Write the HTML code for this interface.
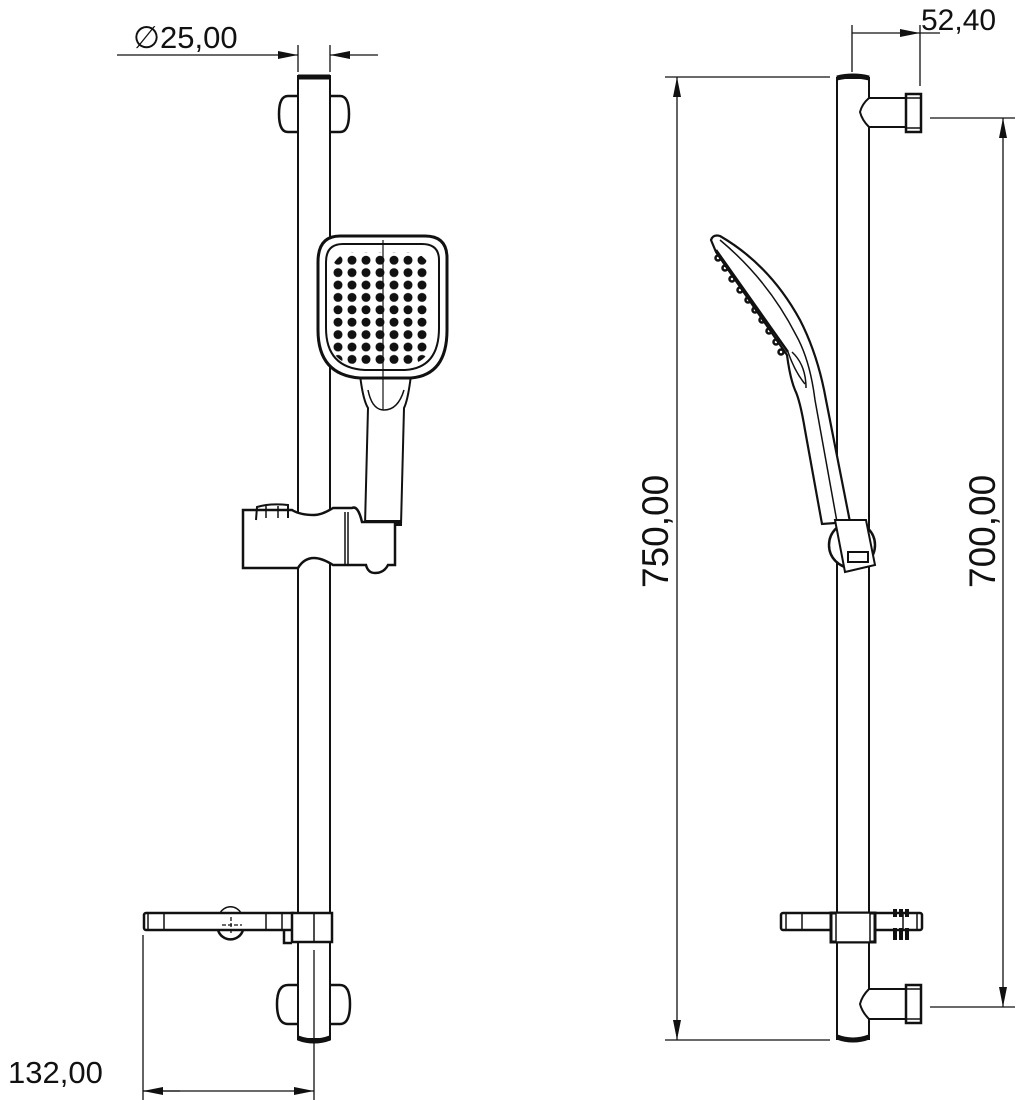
<!DOCTYPE html>
<html><head><meta charset="utf-8"><style>
html,body{margin:0;padding:0;background:#fff;}
svg{display:block}
text{font-family:"Liberation Sans",sans-serif;fill:#111}
</style></head><body>
<svg width="1022" height="1100" viewBox="0 0 1022 1100" xmlns="http://www.w3.org/2000/svg">
<defs>
<pattern id="dots" x="331" y="254" width="14" height="12.4" patternUnits="userSpaceOnUse">
<circle cx="7" cy="6.2" r="4.5" fill="#111"/>
</pattern>
<marker id="ar" viewBox="0 0 20 8" refX="20" refY="4" markerWidth="20" markerHeight="8" orient="auto" markerUnits="userSpaceOnUse">
<path d="M0,0 L20,4 L0,8 z" fill="#111"/>
</marker>
</defs>
<g fill="none" stroke="#111" stroke-width="2">

<!-- ===== LEFT VIEW ===== -->
<text x="133" y="48" font-size="31" stroke="none">∅25,00</text>
<line x1="298" y1="45" x2="298" y2="72" stroke-width="1.3"/>
<line x1="330" y1="45" x2="330" y2="72" stroke-width="1.3"/>
<line x1="117" y1="55" x2="298" y2="55" stroke-width="1.3" marker-end="url(#ar)"/>
<line x1="378" y1="55" x2="330" y2="55" stroke-width="1.3" marker-end="url(#ar)"/>
<rect x="298" y="76" width="32" height="963" fill="#fff"/>
<path d="M298 77 H330" stroke-width="5"/>
<path d="M298 1038 Q314 1044 330 1038" stroke-width="5"/>
<path d="M298 96 H288 Q279 96 279 114 Q279 132 288 132 H298" stroke-width="2.5"/>
<path d="M330 96 H340 Q349 96 349 114 Q349 132 340 132 H330" stroke-width="2.5"/>
<path d="M298 985 H288 Q277 985 277 1004 Q277 1024 288 1024 H298" stroke-width="2.5"/>
<path d="M330 985 H340 Q350 985 350 1004 Q350 1024 340 1024 H330" stroke-width="2.5"/>
<line x1="314" y1="950" x2="314" y2="1100" stroke-width="1.3"/>
<path d="M360 375 Q363 400 368 408 L365 525 H401 L404 408 Q408 400 411 375" fill="#fff"/>
<path d="M368 390 Q372 410 384 410 Q398 410 404 390" stroke-width="1.5"/>
<line x1="365" y1="522" x2="401" y2="522" stroke-width="4"/>
<path d="M340 236 H425 Q447 236 447 258 V330 Q447 375 411 378 H360 Q318 375 318 330 V262 Q318 236 340 236 Z" fill="#fff" stroke-width="3"/>
<path d="M343 244 H422 Q439 244 439 260 V328 Q439 368 405 370 H365 Q326 368 326 328 V262 Q326 244 343 244 Z" stroke-width="2"/>
<rect x="331" y="252" width="100" height="112" rx="22" fill="url(#dots)" stroke="none"/>
<line x1="383" y1="240" x2="383" y2="410" stroke-width="1.2"/>
<path d="M243 510 H292 Q300 515 314 515 Q322 515 333 508 H352 Q358 505 362 522 H395 V565 H388 Q384 573 375 573 Q368 573 366 565 H333 Q322 558 314 558 Q304 558 298 568 H243 Z" fill="#fff" stroke-width="2.5"/>
<line x1="345" y1="512" x2="345" y2="565" stroke-width="1.5"/>
<line x1="348" y1="512" x2="348" y2="565" stroke-width="1.5"/>
<path d="M256 520 L257 507 Q270 503 288 505 L288 518" stroke-width="2"/>
<line x1="266" y1="506" x2="266" y2="518" stroke-width="1.5"/>
<line x1="278" y1="506" x2="278" y2="518" stroke-width="1.5"/>
<rect x="144" y="913" width="152" height="17" rx="2" fill="#fff" stroke-width="2.5"/>
<line x1="148" y1="913" x2="148" y2="930" stroke-width="1.5"/>
<line x1="164" y1="913" x2="164" y2="930" stroke-width="1.5"/>
<line x1="266" y1="913" x2="266" y2="930" stroke-width="1.5"/>
<line x1="282" y1="913" x2="282" y2="930" stroke-width="1.5"/>
<path d="M218 930 A13 13 0 0 0 243 930" stroke-width="2.5"/>
<path d="M220 913 A12 12 0 0 1 241 913" stroke-width="1.5"/>
<line x1="222" y1="925" x2="242" y2="925" stroke-width="1.3" stroke-dasharray="4 2"/>
<line x1="231" y1="917" x2="231" y2="933" stroke-width="1.3" stroke-dasharray="4 2"/>
<rect x="292" y="913" width="40" height="29" fill="#fff" stroke-width="2.5"/>
<line x1="314" y1="913" x2="314" y2="942" stroke-width="1.5"/>
<path d="M284 930 V943 H292" stroke-width="2.5"/>
<line x1="143" y1="935" x2="143" y2="1100" stroke-width="1.3"/>
<line x1="180" y1="1091" x2="143" y2="1091" stroke-width="1.3" marker-end="url(#ar)"/>
<line x1="143" y1="1091" x2="314" y2="1091" stroke-width="1.3" marker-end="url(#ar)"/>
<text x="8" y="1083" font-size="31" stroke="none">132,00</text>

<!-- ===== RIGHT VIEW ===== -->
<line x1="852" y1="25" x2="852" y2="72" stroke-width="1.3"/>
<line x1="920" y1="25" x2="920" y2="86" stroke-width="1.3"/>
<line x1="852" y1="33" x2="920" y2="33" stroke-width="1.3" marker-end="url(#ar)"/>
<line x1="940" y1="33" x2="920" y2="33" stroke-width="1.3"/>
<text x="921" y="30" font-size="30" stroke="none">52,40</text>
<line x1="665" y1="77" x2="830" y2="77" stroke-width="1.3"/>
<line x1="665" y1="1040" x2="830" y2="1040" stroke-width="1.3"/>
<line x1="677" y1="560" x2="677" y2="77" stroke-width="1.3" marker-end="url(#ar)"/>
<line x1="677" y1="560" x2="677" y2="1040" stroke-width="1.3" marker-end="url(#ar)"/>
<text transform="translate(668 588) rotate(-90)" font-size="37" stroke="none">750,00</text>
<line x1="930" y1="118" x2="1015" y2="118" stroke-width="1.3"/>
<line x1="930" y1="1007" x2="1015" y2="1007" stroke-width="1.3"/>
<line x1="1003" y1="560" x2="1003" y2="118" stroke-width="1.3" marker-end="url(#ar)"/>
<line x1="1003" y1="560" x2="1003" y2="1007" stroke-width="1.3" marker-end="url(#ar)"/>
<text transform="translate(995 588) rotate(-90)" font-size="37" stroke="none">700,00</text>
<rect x="837" y="78" width="32" height="961" fill="#fff"/>
<path d="M837 78 Q853 74 869 78" stroke-width="5"/>
<path d="M837 1037 Q853 1043 869 1037" stroke-width="5"/>
<path d="M869 98 H906 V127 H869 Q862 120 860 112 Q862 104 869 98 Z" fill="#fff" stroke-width="2"/>
<rect x="906" y="94" width="15" height="38" fill="#fff" stroke-width="2.5"/>
<line x1="906" y1="98" x2="921" y2="98" stroke-width="1.5"/>
<line x1="906" y1="128" x2="921" y2="128" stroke-width="1.5"/>
<path d="M869 989 H906 V1019 H869 Q862 1012 860 1004 Q862 996 869 989 Z" fill="#fff" stroke-width="2"/>
<rect x="906" y="985" width="15" height="38" fill="#fff" stroke-width="2.5"/>
<line x1="906" y1="989" x2="921" y2="989" stroke-width="1.5"/>
<line x1="906" y1="1019" x2="921" y2="1019" stroke-width="1.5"/>
<!-- side shower -->
<path d="M711 240 Q713 234 720 236 Q770 265 800 320 Q818 355 826 400 L850 522 L822 524 L805 430 Q800 400 795 390 Q790 378 787 355 L716 252 Z" fill="#fff" stroke-width="2.2"/>
<path d="M720 240 Q768 280 796 335 Q810 360 815 400 L837 522" stroke-width="1.5"/>
<path d="M716 250 L788 352" stroke-width="2.5"/>
<path d="M792 352 Q806 365 806 388" stroke-width="1.5"/>
<path d="M788 352 Q795 372 805 384" stroke-width="1.5"/>
<g stroke-width="2.5">
<circle cx="718" cy="258" r="2.5"/><circle cx="725" cy="268" r="2.5"/><circle cx="732" cy="279" r="2.5"/><circle cx="740" cy="290" r="2.5"/><circle cx="748" cy="300" r="2.5"/><circle cx="755" cy="310" r="2.5"/><circle cx="762" cy="320" r="2.5"/><circle cx="769" cy="331" r="2.5"/><circle cx="776" cy="342" r="2.5"/><circle cx="781" cy="352" r="2.5"/>
</g>
<circle cx="852" cy="545" r="23" fill="#fff" stroke-width="2.5"/>
<path d="M835 520 L866 520 L875 565 L845 572 Z" fill="#fff" stroke-width="2"/>
<rect x="848" y="552" width="20" height="10" fill="#fff" stroke-width="2"/>
<rect x="781" y="913" width="141" height="17" rx="2" fill="#fff" stroke-width="2.5"/>
<line x1="786" y1="913" x2="786" y2="930" stroke-width="1.5"/>
<line x1="802" y1="913" x2="802" y2="930" stroke-width="1.5"/>
<line x1="903" y1="913" x2="903" y2="930" stroke-width="1.5"/>
<line x1="917" y1="913" x2="917" y2="930" stroke-width="1.5"/>
<rect x="831" y="913" width="44" height="29" fill="#fff" stroke-width="3"/>
<rect x="836" y="913" width="34" height="29" fill="#fff" stroke-width="1.5"/>
<path d="M895 909 v8 M901 909 v8 M907 909 v8 M895 928 v12 M901 928 v12 M907 928 v12" stroke-width="4"/>
</g>
</svg>
</body></html>
